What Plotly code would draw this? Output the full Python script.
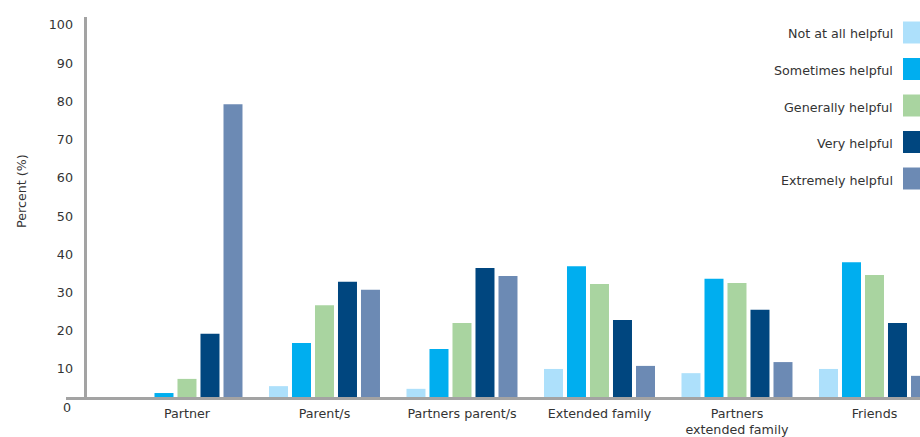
import plotly.graph_objects as go

# Who helped, and how helpful they were (percent of respondents)
categories = ["Partner", "Parent/s", "Partners parent/s", "Extended family",
              "Partners<br>extended family", "Friends"]
series_names = ["Not at all helpful", "Sometimes helpful", "Generally helpful",
                "Very helpful", "Extremely helpful"]
not_at_all = [0.0, 5.5, 4.8, 10.0, 8.9, 10.0]
sometimes = [3.7, 16.8, 15.2, 36.9, 33.6, 37.9]
generally = [7.4, 26.7, 22.0, 32.2, 32.5, 34.6]
very = [19.2, 32.8, 36.4, 22.8, 25.5, 22.0]
extremely = [79.3, 30.7, 34.3, 10.8, 11.8, 8.2]
colors = ["#ade0fb", "#00aeef", "#a9d4a0", "#00467f", "#6c8ab4"]
y_ticks = [10, 20, 30, 40, 50, 60, 70, 80, 90, 100]

series_values = [not_at_all, sometimes, generally, very, extremely]

W, H = 920, 437
M_L, M_R, M_T, M_B = 86, 0, 17, 39
PW, PH = W - M_L - M_R, H - M_T - M_B
Y_RANGE = [2.4, 102.1]
X_RANGE = [-0.7345, 5.331]
FONT = "DejaVu Sans, Verdana, sans-serif"
TXT = "#333333"
FS = 12.7
AXIS_GREY = "#a3a3a3"


def px_x(px):
    return (px - M_L) / PW


def px_y(py):
    return (H - M_B - py) / PH


fig = go.Figure()
for name, vals, col in zip(series_names, series_values, colors):
    fig.add_trace(go.Bar(
        x=list(range(len(categories))), y=vals, name=name,
        marker=dict(color=col, line=dict(width=0)),
        showlegend=False,
    ))

shapes = [
    # horizontal baseline, running a little left of the value axis
    dict(type="line", xref="paper", yref="paper",
         x0=px_x(66), x1=px_x(W + 2), y0=px_y(398.5), y1=px_y(398.5),
         line=dict(color=AXIS_GREY, width=3), layer="above"),
    # value axis
    dict(type="line", xref="paper", yref="paper",
         x0=px_x(85.5), x1=px_x(85.5), y0=px_y(398), y1=px_y(17),
         line=dict(color=AXIS_GREY, width=3), layer="above"),
]

annotations = [
    dict(text="Percent (%)", xref="paper", yref="paper",
         x=px_x(21), y=px_y(191), textangle=-90, showarrow=False,
         xanchor="center", yanchor="middle",
         font=dict(family=FONT, size=FS, color=TXT)),
    dict(text="0", xref="paper", yref="paper",
         x=px_x(73), y=(0 - Y_RANGE[0]) / (Y_RANGE[1] - Y_RANGE[0]),
         showarrow=False, xanchor="right", yanchor="middle",
         font=dict(family=FONT, size=FS, color=TXT)),
]

# legend: labels right-aligned, colour swatch on the right
leg_top, leg_step = 32.5, 36.5
for i, (name, col) in enumerate(zip(series_names, colors)):
    cy = leg_top + i * leg_step
    annotations.append(dict(
        text=name, xref="paper", yref="paper", x=px_x(895), y=px_y(cy + 1.5),
        showarrow=False, xanchor="right", yanchor="middle",
        font=dict(family=FONT, size=FS, color=TXT)))
    shapes.append(dict(
        type="rect", xref="paper", yref="paper",
        x0=px_x(903), x1=px_x(W + 10), y0=px_y(cy + 11), y1=px_y(cy - 11),
        fillcolor=col, line=dict(width=0)))

fig.update_layout(
    width=W, height=H,
    margin=dict(l=M_L, r=M_R, t=M_T, b=M_B, pad=0),
    paper_bgcolor="white", plot_bgcolor="white",
    barmode="group", bargap=0.1636, bargroupgap=0.174,
    font=dict(family=FONT, size=FS, color=TXT),
    shapes=shapes, annotations=annotations,
    xaxis=dict(
        range=X_RANGE, tickmode="array",
        tickvals=list(range(len(categories))), ticktext=categories,
        showgrid=False, zeroline=False, showline=False, ticks="",
        ticklabelstandoff=6,
        tickfont=dict(family=FONT, size=FS, color=TXT),
    ),
    yaxis=dict(
        range=Y_RANGE, tickmode="array", tickvals=y_ticks,
        showgrid=False, zeroline=False, showline=False, ticks="",
        ticklabelstandoff=12,
        tickfont=dict(family=FONT, size=FS, color=TXT),
    ),
)

fig.write_html("out.html")
